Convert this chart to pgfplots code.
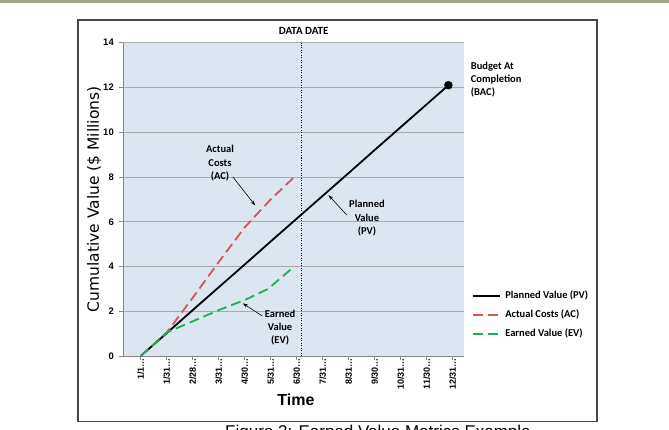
\documentclass[border=0pt]{standalone}
\usepackage{fontspec}
\setmainfont{Carlito}
\newfontfamily\arialfont{Liberation Sans}
\newfontfamily\verdfont{DejaVu Sans}
\usepackage{pgfplots}
\pgfplotsset{compat=1.18}
\usetikzlibrary{arrows.meta}
\definecolor{plotbg}{RGB}{220,230,241}
\definecolor{acred}{RGB}{205,90,85}
\definecolor{evgreen}{RGB}{30,175,80}
\definecolor{gridgray}{RGB}{170,170,170}
\definecolor{axisgray}{RGB}{134,134,134}
\definecolor{framegray}{RGB}{70,70,70}
\definecolor{topline}{RGB}{160,165,130}
\begin{document}
\begin{tikzpicture}[x=1pt,y=1pt]
\path[use as bounding box] (0,0) rectangle (669,429);
\clip (0,0) rectangle (669,429);
\fill[white] (0,0) rectangle (669,429);
\draw[topline, line width=2.5pt] (0,427.5) -- (669,427.5);
\draw[framegray, line width=1.5pt] (78,7.3) rectangle (597,409);
\node[anchor=base west, inner sep=0pt, font=\arialfont\fontsize{17}{20}\selectfont] at (225,-8.9) {Figure 3: Earned Value Metrics Example};
\begin{axis}[
  at={(123pt,73pt)}, anchor=south west,
  width=341pt, height=313.3pt, scale only axis,
  xmin=-0.68, xmax=12.43, ymin=0, ymax=14,
  clip=false,
  axis background/.style={fill=plotbg},
  axis x line*=bottom, axis y line*=left,
  axis line style={axisgray, line width=0.8pt},
  tick style={axisgray, line width=0.8pt},
  tick align=outside, major tick length=4pt,
  xtick={0,...,12},
  xticklabels={1/1…,1/31…,2/28…,3/31…,4/30…,5/31…,6/30…,7/31…,8/31…,9/30…,10/31…,11/30…,12/31…},
  x tick label style={font=\arialfont\bfseries\fontsize{9}{10}\selectfont, inner sep=0pt, yshift=2pt, rotate=90, anchor=east},
  ytick={0,2,...,14},
  /pgf/number format/assume math mode=true,
  y tick label style={font=\arialfont\bfseries\fontsize{9.5}{11}\selectfont, inner sep=0pt, xshift=-5pt},
  ymajorgrids, grid style={gridgray, line width=0.6pt},
  ylabel={Cumulative Value (\$ Millions)},
  ylabel style={font=\verdfont\fontsize{15.5}{18}\selectfont, at={(axis description cs:-0.085,0.5)}, anchor=center},
  xlabel={Time},
  xlabel style={font=\arialfont\bfseries\fontsize{16}{18}\selectfont, at={(axis description cs:0.507,-0.14)}, anchor=center},
  legend style={at={(axis description cs:1,0.131)}, anchor=west, xshift=7.7pt, draw=none, fill=none, inner sep=0pt,
    font=\bfseries\fontsize{10.5}{12}\selectfont, row sep=9.5pt, column sep=4pt,
    nodes={inner sep=0pt, text height=7.5pt, text depth=2pt}},
  legend cell align=left,
  legend image code/.code={\draw[#1] (0pt,0pt) -- (27.6pt,0pt);},
]
\addplot[black, line width=1.8pt] coordinates {(0,0) (1,1.02) (2,2.05) (3,3.07) (4,4.09) (5,5.12) (6,6.14) (7,7.16) (8,8.18) (9,9.21) (10,10.23) (11,11.25) (11.83,12.1)};
\addlegendentry{Planned Value (PV)}
\addplot[acred, line width=1.8pt, dash pattern=on 10pt off 5pt] coordinates {(0,0) (1,1.05) (2,2.6) (3,4.2) (4,5.75) (5,7.0) (5.87,7.96)};
\addlegendentry{Actual Costs (AC)}
\addplot[evgreen, line width=1.8pt, dash pattern=on 10pt off 5pt] coordinates {(0,0) (1,1.05) (2,1.55) (3,2.05) (4,2.5) (4.9,3.0) (5.9,4.0)};
\addlegendentry{Earned Value (EV)}
\addplot[black, line width=1.2pt, dash pattern=on 1pt off 1.5pt, forget plot] coordinates {(6.17,0) (6.17,14)};
\addplot[black, only marks, mark=*, mark size=4pt, forget plot] coordinates {(11.83,12.1)};
\node[font=\bfseries\fontsize{11}{13}\selectfont] at (axis description cs:0.53,1.037) {DATA DATE};
\node[font=\bfseries\fontsize{10.5}{13.3}\selectfont, align=center] at (axis cs:3.05,8.61) {Actual\\Costs\\(AC)};
\draw[-{Stealth[length=5pt,width=3.5pt]}, line width=0.6pt] (axis cs:3.54,8.01) -- (axis cs:4.40,6.73);
\node[font=\bfseries\fontsize{10.5}{13.3}\selectfont, align=center] at (axis cs:8.70,6.15) {Planned\\Value\\(PV)};
\draw[-{Stealth[length=5pt,width=3.5pt]}, line width=0.6pt] (axis cs:7.92,6.30) -- (axis cs:7.22,7.19);
\node[font=\bfseries\fontsize{10.5}{13.3}\selectfont, align=center] at (axis cs:5.36,1.26) {Earned\\Value\\(EV)};
\draw[-{Stealth[length=5pt,width=3.5pt]}, line width=0.6pt] (axis cs:4.67,1.79) -- (axis cs:3.93,2.35);
\node[font=\bfseries\fontsize{10.5}{13}\selectfont, align=left, anchor=west] at (axis cs:12.56,12.33) {Budget At\\Completion\\(BAC)};
\end{axis}
\end{tikzpicture}
\end{document}
